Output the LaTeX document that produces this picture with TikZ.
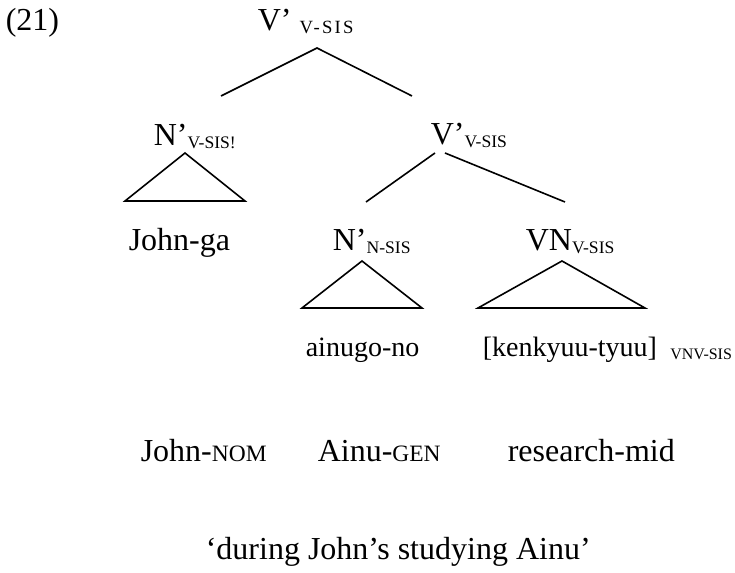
\documentclass[tikz,border=0pt]{standalone}
\usepackage{fontspec}
\setmainfont{Liberation Serif}
% category subscripts and small-caps glosses
\newcommand{\lsub}[1]{\raisebox{-1.1pt}{\fontsize{6.6pt}{8pt}\selectfont #1}}
\newcommand{\lsubw}[1]{\raisebox{-1.1pt}{\fontsize{7pt}{8pt}\selectfont\addfontfeature{LetterSpace=12}#1}}
\newcommand{\gsc}[1]{{\fontsize{8.8pt}{10pt}\selectfont #1}}

\begin{document}
\begin{tikzpicture}[x=0.375pt,y=-0.375pt,line width=0.6pt,
    lbl/.style={inner sep=0pt,anchor=base west,font=\fontsize{12pt}{14pt}\selectfont},
    word/.style={lbl,font=\fontsize{10.5pt}{12pt}\selectfont}]
  \useasboundingbox (0,0) rectangle (735,573);
  % tree labels
  \node[lbl] (ex) at (5,31) {(21)};
  \node[lbl] (vtop) at (257,31) {V’\hspace{3pt}\lsubw{V-SIS}};
  \node[lbl] (nsubj) at (153,146) {N’\lsub{V-SIS!}};
  \node[lbl] (vbar) at (430,145) {V’\lsub{V-SIS}};
  \node[lbl] (john) at (128,251) {John-ga};
  \node[lbl] (nobj) at (332,251) {N’\lsub{N-SIS}};
  \node[lbl] (vn) at (525,251) {VN\lsub{V-SIS}};
  \node[word] (ainu) at (305,357) {ainugo-no};
  \node[word] (kenk) at (482,357) {[kenkyuu-tyuu]\hspace{5pt}\raisebox{-1pt}{\fontsize{6pt}{7pt}\selectfont VNV-SIS}};
  % glosses and translation
  \node[lbl] (gjohn) at (140,462) {John-\gsc{NOM}};
  \node[lbl] (gainu) at (317,462) {Ainu-\gsc{GEN}};
  \node[lbl] (gres) at (507,462) {research-mid};
  \node[lbl] (trans) at (205,560) {‘during John’s studying Ainu’};
  % branch points
  \coordinate (vtop-a) at (317,48);
  \coordinate (nsubj-t) at (221,96);
  \coordinate (vbar-t) at (412,96);
  \coordinate (vbar-l) at (435,153);
  \coordinate (vbar-r) at (445,153);
  \coordinate (nobj-t) at (366,202);
  \coordinate (vn-t) at (565,202);
  \draw (nsubj-t) -- (vtop-a) -- (vbar-t);
  \draw (vbar-l) -- (nobj-t);
  \draw (vbar-r) -- (vn-t);
  % triangles
  \coordinate (tri1) at (185,153);
  \coordinate (tri2) at (362,261);
  \coordinate (tri3) at (562,261);
  \draw (tri1) -- ++(-60,48) -- ++(120,0) -- cycle;
  \draw (tri2) -- ++(-60,47) -- ++(120,0) -- cycle;
  \draw (tri3) -- ++(-84,47) -- ++(167,0) -- cycle;
\end{tikzpicture}
\end{document}
